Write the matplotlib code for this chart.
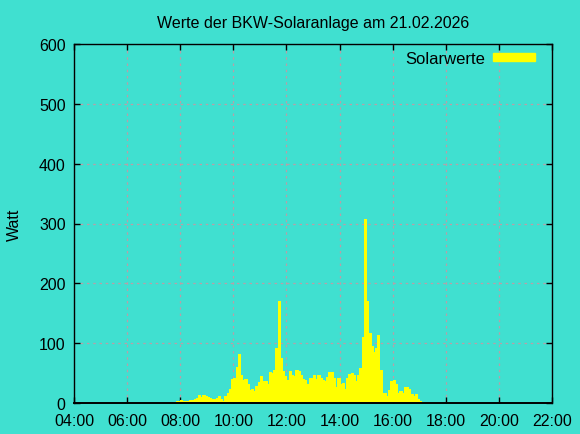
import pandas as pd
import numpy as np
import matplotlib.pyplot as plt
import matplotlib.dates as mdates
from matplotlib.patches import Patch

### Data (5-minute values)
start = "2026-02-21 07:45"
watt = [2, 3, 4, 5, 4, 4, 4, 5, 5, 7, 8, 13, 10, 13, 12, 10, 8, 6, 7, 8,
        11, 6, 4, 12, 17, 24, 40, 42, 60, 82, 46, 38, 40, 32, 22, 24, 20, 28, 35, 45,
        37, 36, 32, 51, 50, 55, 92, 171, 75, 54, 45, 38, 54, 46, 45, 55, 53,
        46, 40, 38, 32, 42, 42, 47, 40, 46, 42, 38, 36, 44, 52, 52, 42, 27, 42, 32,
        34, 24, 41, 49, 50, 47, 37, 47, 58, 110, 307, 170, 117, 95, 85, 92, 113, 55,
        17, 17, 12, 22, 37, 38, 31, 16, 20, 17, 27, 26, 23, 15, 12, 15, 7, 4, 2, 1]
times = pd.date_range(start, periods=len(watt), freq="5min")

x_ticks = pd.date_range("2026-02-21 04:00", "2026-02-21 22:00", freq="2h")
y_ticks = np.arange(0, 700, 100)

bg = "#40E0D0"
plt.rcParams['font.family'] = ['Liberation Sans', 'DejaVu Sans']

### Plot
fig = plt.figure(figsize=(5.8, 4.35), dpi=100, facecolor=bg)
ax = fig.add_axes([74/580, 31/435, 478/580, 359/435], facecolor=bg)

ax.bar(times, watt, width=5/1440, align='edge', color='#FFFF00',
       edgecolor='#FFFF00', linewidth=0.4, antialiased=False)

ax.set_xlim(x_ticks[0], x_ticks[-1])
ax.set_ylim(0, 600)
ax.set_xticks(x_ticks)
ax.xaxis.set_major_formatter(mdates.DateFormatter('%H:%M'))
ax.set_yticks(y_ticks)

ax.grid(True, color='#b8a0a8', linestyle=(0, (2, 3)), linewidth=0.9)
ax.set_axisbelow(True)
ax.tick_params(direction='in', top=True, right=True, length=4, width=1,
               labelsize=11.5, colors='black')
ax.tick_params(axis='x', pad=7)
ax.tick_params(axis='y', pad=6)
for s in ax.spines.values():
    s.set_linewidth(1)
    s.set_color('black')
ax.spines['bottom'].set_linewidth(1.4)

ax.set_ylabel('Watt', fontsize=11.5, labelpad=12)
ax.set_title('Werte der BKW-Solaranlage am 21.02.2026', fontsize=11.5, pad=12)

ax.legend(handles=[Patch(color='#FFFF00', label='Solarwerte')], loc='upper right',
          frameon=False, markerfirst=False, fontsize=12, handlelength=2.5,
          handleheight=0.35, handletextpad=0.5, borderaxespad=0.0,
          bbox_to_anchor=(0.978, 1.0))

fig.savefig('out.png', dpi=100, facecolor=bg)
